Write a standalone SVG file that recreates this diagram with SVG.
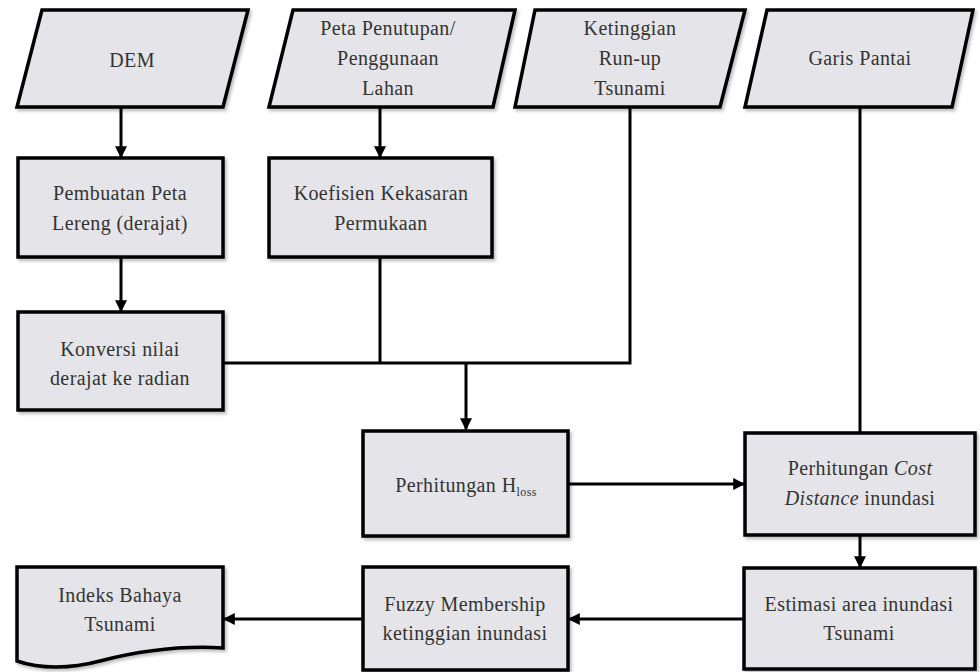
<svg xmlns="http://www.w3.org/2000/svg" width="980" height="672" viewBox="0 0 980 672">
<defs>
<filter id="sh" x="-5%" y="-5%" width="110%" height="115%">
<feDropShadow dx="2" dy="2.5" stdDeviation="1.5" flood-color="#000" flood-opacity="0.25"/>
</filter>
<marker id="ah" viewBox="0 0 10 10" refX="9" refY="5" markerWidth="4" markerHeight="4" orient="auto" markerUnits="strokeWidth">
<path d="M0,0 L10,5 L0,10 Z" fill="#000"/>
</marker>
</defs>
<style>
.n{fill:#e5e5e9;stroke:#000;stroke-width:3.5;stroke-linejoin:miter;filter:url(#sh)}
.t{font-family:"Liberation Serif","Times New Roman",serif;font-size:20px;fill:#333;text-anchor:middle;letter-spacing:0.4px}
.c{fill:none;stroke:#000;stroke-width:3}
.a{marker-end:url(#ah)}
</style>
<rect width="980" height="672" fill="#fff"/>
<g id="connectors">
<line class="c a" x1="121" y1="108" x2="121" y2="157"/>
<line class="c a" x1="380" y1="108" x2="380" y2="157"/>
<line class="c a" x1="121" y1="258" x2="121" y2="311"/>
<polyline class="c" points="224,363 466,363"/>
<polyline class="c" points="380,258 380,363"/>
<polyline class="c" points="630,108 630,363 466,363"/>
<line class="c a" x1="466" y1="363" x2="466" y2="429"/>
<line class="c a" x1="569" y1="484" x2="744" y2="484"/>
<line class="c" x1="860" y1="108" x2="860" y2="433"/>
<line class="c a" x1="860" y1="536" x2="860" y2="567"/>
<line class="c a" x1="744" y1="619" x2="569" y2="619"/>
<line class="c a" x1="363" y1="619" x2="224" y2="619"/>
</g>
<g id="dem">
<polygon class="n" points="42,10 248,10 223,107 17,107"/>
<text class="t" x="132" y="67">DEM</text>
</g>
<g id="peta">
<polygon class="n" points="293,10 515,10 493,107 269,107"/>
<text class="t" x="388" y="35">Peta Penutupan/</text>
<text class="t" x="388" y="65">Penggunaan</text>
<text class="t" x="388" y="95">Lahan</text>
</g>
<g id="ketinggian">
<polygon class="n" points="535,10 745,10 720,107 515,107"/>
<text class="t" x="630" y="35">Ketinggian</text>
<text class="t" x="630" y="65">Run-up</text>
<text class="t" x="630" y="95">Tsunami</text>
</g>
<g id="garis">
<polygon class="n" points="767,10 973,10 952,107 745,107"/>
<text class="t" x="860" y="65">Garis Pantai</text>
</g>
<g id="pembuatan">
<rect class="n" x="18" y="158" width="205" height="99"/>
<text class="t" x="120" y="200">Pembuatan Peta</text>
<text class="t" x="120" y="230">Lereng (derajat)</text>
</g>
<g id="koefisien">
<rect class="n" x="269" y="158" width="223" height="99"/>
<text class="t" x="381" y="200">Koefisien Kekasaran</text>
<text class="t" x="381" y="230">Permukaan</text>
</g>
<g id="konversi">
<rect class="n" x="18" y="312" width="205" height="98"/>
<text class="t" x="120" y="356">Konversi nilai</text>
<text class="t" x="120" y="385">derajat ke radian</text>
</g>
<g id="hloss">
<rect class="n" x="363" y="431" width="205" height="105"/>
<text class="t" x="466" y="492">Perhitungan H<tspan font-size="12" dy="4">loss</tspan></text>
</g>
<g id="cost">
<rect class="n" x="745" y="433" width="230" height="102"/>
<text class="t" x="860" y="475">Perhitungan <tspan font-style="italic">Cost</tspan></text>
<text class="t" x="860" y="505"><tspan font-style="italic">Distance</tspan> inundasi</text>
</g>
<g id="estimasi">
<rect class="n" x="744" y="568" width="231" height="101"/>
<text class="t" x="859" y="611">Estimasi area inundasi</text>
<text class="t" x="859" y="640">Tsunami</text>
</g>
<g id="fuzzy">
<rect class="n" x="363" y="567" width="205" height="103"/>
<text class="t" x="465" y="611">Fuzzy Membership</text>
<text class="t" x="465" y="640">ketinggian inundasi</text>
</g>
<g id="indeks">
<path class="n" d="M17,567 H223 V648 C175,645 135,652 100,661 C70,669 40,669 17,661 Z"/>
<text class="t" x="120" y="602">Indeks Bahaya</text>
<text class="t" x="120" y="631">Tsunami</text>
</g>
</svg>
